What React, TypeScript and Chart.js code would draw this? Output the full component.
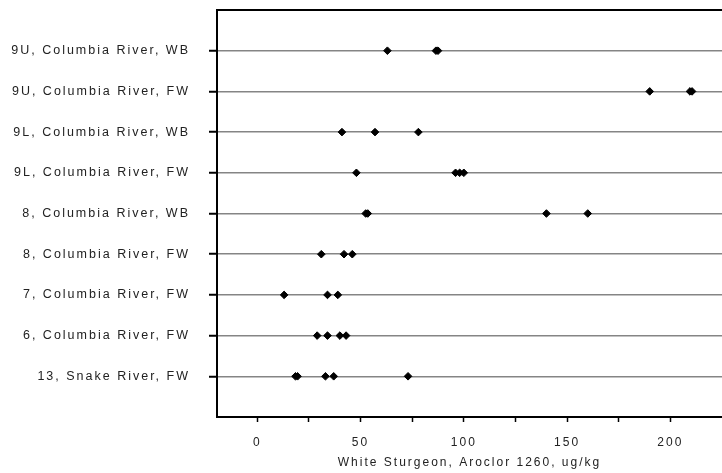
import { useEffect, useRef } from 'react';
import { Chart, registerables } from 'chart.js';

Chart.register(...registerables);

const categories = [
  '9U, Columbia River, WB',
  '9U, Columbia River, FW',
  '9L, Columbia River, WB',
  '9L, Columbia River, FW',
  '8, Columbia River, WB',
  '8, Columbia River, FW',
  '7, Columbia River, FW',
  '6, Columbia River, FW',
  '13, Snake River, FW',
];

const site9uWB = [63, 86.5, 87.5];
const site9uFW = [190, 209.5, 210.5];
const site9lWB = [41, 57, 78];
const site9lFW = [48, 96, 98, 100];
const site8WB = [52.5, 53.5, 140, 160];
const site8FW = [31, 42, 46];
const site7FW = [13, 34, 39];
const site6FW = [29, 34, 40, 43];
const site13FW = [18.5, 19.5, 33, 37, 73];

const seriesByCategory = [site9uWB, site9uFW, site9lWB, site9lFW, site8WB, site8FW, site7FW, site6FW, site13FW];

const xTickValues = [0, 25, 50, 75, 100, 125, 150, 175, 200];
const xTickLabels = ['0', '', '50', '', '100', '', '150', '', '200'];
const xTitle = 'White Sturgeon, Aroclor 1260, ug/kg';

const FONT = '"Liberation Sans", Arial, Helvetica, sans-serif';

export default function App() {
  const ref = useRef<HTMLCanvasElement | null>(null);

  useEffect(() => {
    if (!ref.current) return;
    const points: { x: number; y: number }[] = [];
    seriesByCategory.forEach((vals, i) => {
      vals.forEach((v) => points.push({ x: v, y: i + 1 }));
    });

    const spacing = {
      id: 'spacing',
      beforeLayout(chart: any) {
        chart.ctx.letterSpacing = '2px';
      },
      beforeDraw(chart: any) {
        chart.ctx.letterSpacing = '2px';
      },
      afterDraw(chart: any) {
        const { ctx, chartArea } = chart;
        ctx.save();
        ctx.strokeStyle = '#000';
        ctx.lineWidth = 2;
        ctx.beginPath();
        ctx.moveTo(chartArea.left - 1, chartArea.top);
        ctx.lineTo(chartArea.right + 2, chartArea.top);
        ctx.stroke();
        ctx.restore();
      },
    };

    const chart = new Chart(ref.current, {
      type: 'scatter',
      data: {
        datasets: [
          {
            data: points,
            pointStyle: 'rectRot',
            pointRadius: 3.8,
            pointBackgroundColor: '#000',
            pointBorderColor: '#000',
            pointBorderWidth: 1,
            showLine: false,
          },
        ],
      },
      options: {
        animation: false,
        responsive: true,
        maintainAspectRatio: false,
        layout: { autoPadding: false, padding: { top: 10, right: 0, bottom: 0, left: 0 } },
        plugins: { legend: { display: false }, tooltip: { enabled: false } },
        scales: {
          x: {
            type: 'linear',
            min: -19.5,
            max: 225,
            afterBuildTicks(scale: any) {
              scale.ticks = xTickValues.map((v) => ({ value: v }));
            },
            afterFit(scale: any) {
              scale.height = 56;
              scale.paddingLeft = 0;
              scale.paddingRight = 0;
            },
            grid: {
              drawOnChartArea: false,
              drawTicks: true,
              tickLength: 5,
              tickColor: '#000',
              tickWidth: 1.5,
            },
            border: { display: true, color: '#000', width: 2 },
            ticks: {
              padding: 13,
              color: '#222',
              font: { family: FONT, size: 12 },
              maxRotation: 0,
              autoSkip: false,
              callback: (_v: any, i: number) => xTickLabels[i],
            },
            title: {
              display: true,
              text: xTitle,
              color: '#222',
              font: { family: FONT, size: 12 },
              padding: { top: 0, bottom: 3 },
            },
          },
          y: {
            type: 'linear',
            min: 0,
            max: 10,
            reverse: true,
            afterBuildTicks(scale: any) {
              scale.ticks = categories.map((_c, i) => ({ value: i + 1 }));
            },
            afterFit(scale: any) {
              scale.width = 217;
              scale.paddingTop = 0;
              scale.paddingBottom = 0;
            },
            grid: {
              color: '#858585',
              lineWidth: 1.5,
              drawTicks: true,
              tickLength: 8,
              tickColor: '#000',
              tickWidth: 2,
            },
            border: { display: true, color: '#000', width: 2 },
            ticks: {
              padding: 19,
              color: '#222',
              font: { family: FONT, size: 12.5 },
              autoSkip: false,
              callback: (v: any) => categories[Number(v) - 1] ?? '',
            },
          },
        },
      },
      plugins: [spacing],
    });
    return () => chart.destroy();
  }, []);

  return (
    <div style={{ position: 'fixed', left: 0, top: 0, width: 722, height: 473, background: '#fff' }}>
      <canvas ref={ref} />
    </div>
  );
}
